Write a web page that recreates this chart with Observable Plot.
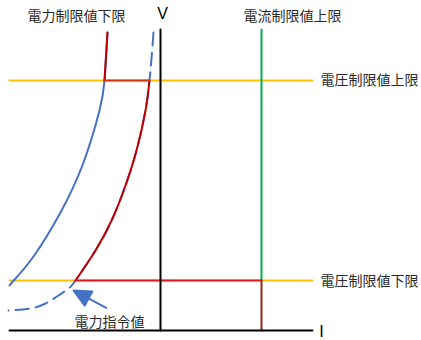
<!DOCTYPE html>
<html>
<head>
<meta charset="utf-8">
<script src="https://cdn.jsdelivr.net/npm/d3@7"></script>
<script src="https://cdn.jsdelivr.net/npm/@observablehq/plot@0.6"></script>
<style>
  html, body { margin: 0; padding: 0; background: #fff; }
  #chart svg { display: block; }
</style>
</head>
<body>
<div id="chart"></div>
<script>
// Coordinates: I (current, horizontal), V (voltage, vertical)
const axisV = [{I: 0, V: 0}, {I: 0, V: 301}];
const axisI = [{I: -151, V: 0}, {I: 152, V: 0}];
const voltUpper = [{I: -151, V: 250}, {I: 152, V: 250}];
const voltLower = [{I: -151, V: 50}, {I: 152, V: 50}];
const currentLimit = [{I: 101, V: 50}, {I: 101, V: 301}];
const currentLow = [{I: 101, V: 0}, {I: 101, V: 50}];

// power limit lower bound (solid blue)
const powerLower = [
  {I: -53, V: 298}, {I: -56, V: 250}, {I: -61, V: 220}, {I: -77, V: 168},
  {I: -100, V: 118}, {I: -127, V: 74}, {I: -145, V: 52}, {I: -151, V: 45}
];
// power command (dashed blue)
const powerCommand = [
  {I: -7, V: 298}, {I: -9, V: 272}, {I: -11, V: 250}, {I: -15, V: 220},
  {I: -24, V: 180}, {I: -35, V: 145}, {I: -48, V: 112}, {I: -65, V: 80},
  {I: -85, V: 50}, {I: -92, V: 42}, {I: -102, V: 35}, {I: -115, V: 27},
  {I: -130, V: 22}, {I: -152, V: 20}
];
// operating boundary (red)
const opLeft = [{I: -53, V: 298}, {I: -54.5, V: 274}, {I: -56, V: 250}];
const opTop = [{I: -56, V: 250}, {I: -11, V: 250}];
const opCurve = [
  {I: -11, V: 250}, {I: -15, V: 220}, {I: -24, V: 180}, {I: -35, V: 145},
  {I: -48, V: 112}, {I: -65, V: 80}, {I: -85, V: 50}
];
const opBottom = [{I: -85, V: 50}, {I: 101, V: 50}];

const arrowData = [{I: -87, V: 40}];

const centerLabels = [
  {text: "電力制限値下限", I: -84, V: 314},
  {text: "電流制限値上限", I: 132, V: 314},
  {text: "電力指令値", I: -51, V: 8}
];
const sideLabels = [
  {text: "電圧制限値上限", I: 160, V: 250},
  {text: "電圧制限値下限", I: 160, V: 49}
];
const axisLabels = [
  {text: "V", I: 2, V: 317},
  {text: "I", I: 161, V: -1}
];

const cjk = "'Noto Sans CJK JP', 'Noto Sans', sans-serif";
const textColor = "#2b2b2b";

const arrowShape = {
  draw(ctx, l, r) {
    const h = 17, w = 8;
    ctx.moveTo(0, 0);
    ctx.lineTo(0, -l + h);
    ctx.moveTo(0, -l);
    ctx.lineTo(-w, -l + h);
    ctx.lineTo(w, -l + h);
    ctx.closePath();
  }
};

const chart = Plot.plot({
  width: 421,
  height: 340,
  margin: 0,
  x: {domain: [-160, 261], axis: null},
  y: {domain: [-10, 330], axis: null},
  marks: [
    Plot.line(voltUpper, {x: "I", y: "V", stroke: "#FFC000", strokeWidth: 2}),
    Plot.line(voltLower, {x: "I", y: "V", stroke: "#FFC000", strokeWidth: 2}),
    Plot.line(currentLimit, {x: "I", y: "V", stroke: "#00B050", strokeWidth: 2}),
    Plot.line(currentLow, {x: "I", y: "V", stroke: "#8E2A12", strokeWidth: 2}),
    Plot.line(powerLower, {x: "I", y: "V", stroke: "#4472C4", strokeWidth: 2, curve: "natural"}),
    Plot.line(powerCommand, {x: "I", y: "V", stroke: "#4472C4", strokeWidth: 2, strokeDasharray: "13,7", curve: "natural"}),
    Plot.line(opLeft, {x: "I", y: "V", stroke: "#C00000", strokeWidth: 2}),
    Plot.line(opCurve, {x: "I", y: "V", stroke: "#C00000", strokeWidth: 2, curve: "natural"}),
    Plot.line(opTop, {x: "I", y: "V", stroke: "#D5350F", strokeWidth: 2}),
    Plot.line(opBottom, {x: "I", y: "V", stroke: "#D42020", strokeWidth: 2}),
    Plot.line(axisV, {x: "I", y: "V", stroke: "#000", strokeWidth: 2}),
    Plot.line(axisI, {x: "I", y: "V", stroke: "#000", strokeWidth: 2}),
    Plot.vector(arrowData, {
      x: "I", y: "V", length: 37, rotate: -62, anchor: "end",
      shape: arrowShape, stroke: "#4472C4", fill: "#4472C4", strokeWidth: 2
    }),
    Plot.text(centerLabels, {x: "I", y: "V", text: "text", fontSize: 14, fontFamily: cjk, fill: textColor, textAnchor: "middle"}),
    Plot.text(sideLabels, {x: "I", y: "V", text: "text", fontSize: 14, fontFamily: cjk, fill: textColor, textAnchor: "start"}),
    Plot.text(axisLabels, {x: "I", y: "V", text: "text", fontSize: 16, fontFamily: "'Liberation Sans', Arial, sans-serif", fill: "#000", textAnchor: "middle"})
  ]
});
document.getElementById("chart").appendChild(chart);
</script>
</body>
</html>
